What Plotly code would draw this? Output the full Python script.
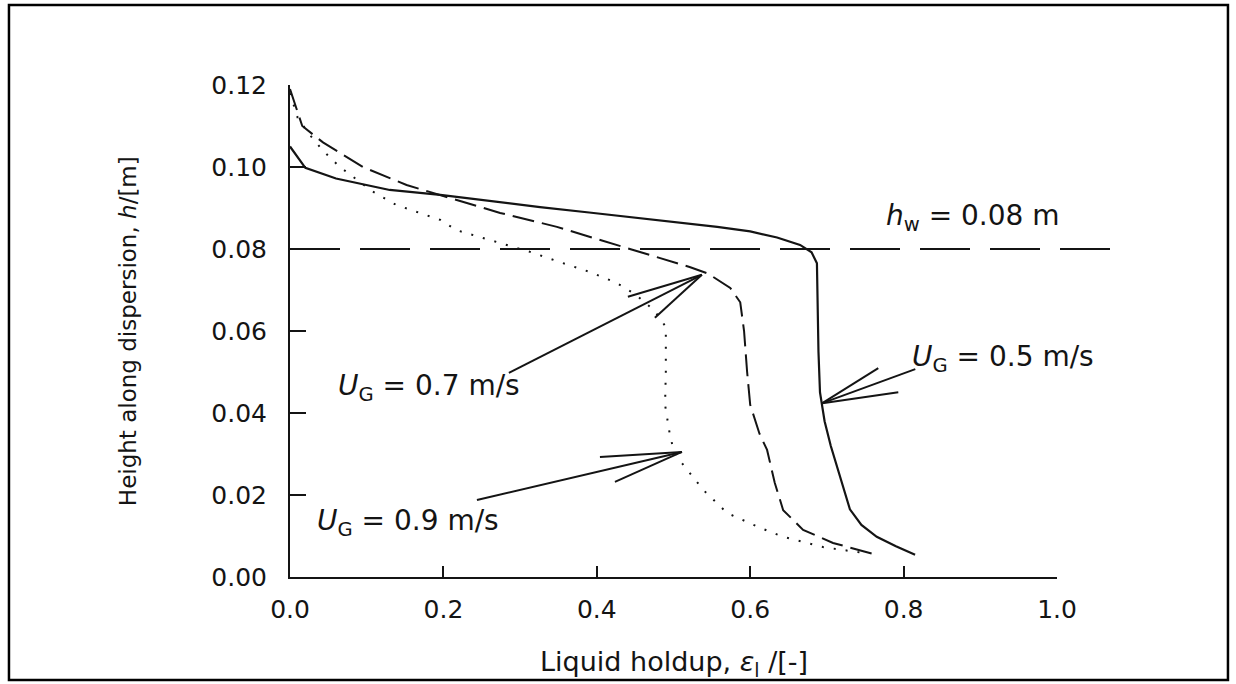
import plotly.graph_objects as go

# ---------------- data ----------------
# U_G = 0.5 m/s (solid)
x_05 = [0.0, 0.02, 0.06, 0.13, 0.196, 0.26, 0.326, 0.39, 0.456, 0.52, 0.557, 0.60,
        0.635, 0.665, 0.68, 0.687, 0.688, 0.689, 0.691, 0.697, 0.705, 0.713, 0.721,
        0.730, 0.745, 0.765, 0.79, 0.815]
h_05 = [0.105, 0.0998, 0.0972, 0.0944, 0.0932, 0.0917, 0.0902, 0.0889, 0.0875, 0.0862,
        0.0854, 0.0843, 0.0828, 0.0810, 0.0792, 0.0765, 0.065, 0.055, 0.045, 0.038,
        0.032, 0.027, 0.022, 0.0165, 0.0127, 0.0098, 0.0075, 0.0054]

# U_G = 0.7 m/s (dashed)
x_07 = [0.0, 0.005, 0.016, 0.043, 0.095, 0.152, 0.196, 0.274, 0.348, 0.426, 0.48,
        0.521, 0.545, 0.574, 0.587, 0.592, 0.596, 0.600, 0.612, 0.622, 0.632, 0.643,
        0.669, 0.708, 0.765]
h_07 = [0.119, 0.116, 0.110, 0.106, 0.100, 0.0956, 0.0932, 0.0888, 0.0854, 0.081,
        0.078, 0.0756, 0.0740, 0.0705, 0.067, 0.060, 0.050, 0.042, 0.035, 0.031,
        0.023, 0.0163, 0.0115, 0.0083, 0.0054]

# U_G = 0.9 m/s (dotted)
x_09 = [0.0, 0.01, 0.025, 0.043, 0.065, 0.108, 0.139, 0.196, 0.217, 0.270, 0.313,
        0.352, 0.391, 0.426, 0.45, 0.475, 0.49, 0.490, 0.489, 0.495, 0.50, 0.51, 0.521,
        0.539, 0.570, 0.613, 0.643, 0.695, 0.75]
h_09 = [0.118, 0.112, 0.108, 0.104, 0.100, 0.094, 0.0907, 0.0871, 0.0846, 0.0817,
        0.0793, 0.0768, 0.0744, 0.0717, 0.069, 0.065, 0.061, 0.050, 0.042, 0.035,
        0.031, 0.028, 0.0254, 0.0212, 0.0156, 0.012, 0.0098, 0.0073, 0.0058]

HW_LEVEL = 0.08
HW_LINE_END = 1.073

x_ticks = [0.0, 0.2, 0.4, 0.6, 0.8, 1.0]
x_ticktext = ["0.0", "0.2", "0.4", "0.6", "0.8", "1.0"]
y_ticks = [0.0, 0.02, 0.04, 0.06, 0.08, 0.10, 0.12]
y_ticktext = ["0.00", "0.02", "0.04", "0.06", "0.08", "0.10", "0.12"]

# ---------------- style ----------------
INK = "#141414"
FONT = "DejaVu Sans"

fig = go.Figure()
fig.add_trace(go.Scatter(x=x_05, y=h_05, mode="lines",
                         line=dict(color=INK, width=2.2), showlegend=False))
fig.add_trace(go.Scatter(x=x_07, y=h_07, mode="lines",
                         line=dict(color=INK, width=2, dash="22px,8px"), showlegend=False))
fig.add_trace(go.Scatter(x=x_09, y=h_09, mode="lines",
                         line=dict(color=INK, width=2, dash="2px,10px"), showlegend=False))

# h_w line (extends past the x-axis end)
fig.add_shape(type="line", xref="paper", yref="y", x0=0, x1=HW_LINE_END,
              y0=HW_LEVEL, y1=HW_LEVEL,
              line=dict(color=INK, width=2, dash="50px,20px"))

# outer frame
fig.add_shape(type="rect", xref="paper", yref="paper",
              x0=-0.3664, x1=1.2229, y0=-0.2093, y1=1.1626,
              line=dict(color="#000000", width=2.5), layer="above")

ann_font = dict(family=FONT, size=28, color=INK)

texts = [
    ("<i>h</i><sub>w</sub> = 0.08 m", 0.775, 0.0876),
    ("<i>U</i><sub>G</sub> = 0.5 m/s", 0.808, 0.0534),
    ("<i>U</i><sub>G</sub> = 0.7 m/s", 0.060, 0.0461),
    ("<i>U</i><sub>G</sub> = 0.9 m/s", 0.032, 0.0132),
]
for t, x, y in texts:
    fig.add_annotation(text=t, x=x, y=y, xref="x", yref="y", xanchor="left",
                       yanchor="middle", showarrow=False, font=ann_font)

# arrows: tip (data) and pixel offsets (right, up) of the main tail and the two barbs
arrows = [
    (0.694, 0.0424, [(93, 34), (56, 35), (76, 11)]),
    (0.537, 0.0737, [(-193, -98), (-74, -22), (-47, -43)]),
    (0.511, 0.0305, [(-205, -48), (-82, -5), (-67, -30)]),
]
for tx, ty, offs in arrows:
    for dx, dy in offs:
        fig.add_shape(type="line", xref="x", yref="y",
                      xsizemode="pixel", ysizemode="pixel",
                      xanchor=tx, yanchor=ty, x0=0, y0=0, x1=dx, y1=dy,
                      line=dict(color=INK, width=2))

# axis titles
fig.add_annotation(text="Liquid holdup, <i>ε</i><sub>l</sub> /[-]", xref="paper", yref="paper",
                   x=0.5, y=-0.175, xanchor="center", yanchor="middle", showarrow=False,
                   font=dict(family=FONT, size=27, color=INK))
fig.add_annotation(text="Height along dispersion, <i>h</i>/[m]", xref="paper", yref="paper",
                   x=-0.211, y=0.5, xanchor="center", yanchor="middle", showarrow=False,
                   textangle=-90, font=dict(family=FONT, size=23, color=INK))

fig.update_xaxes(range=[0, 1.0], tickvals=x_ticks, ticktext=x_ticktext,
                 showgrid=False, zeroline=False, showline=True, linecolor=INK, linewidth=2,
                 ticks="inside", ticklen=11, tickwidth=2, tickcolor=INK,
                 tickfont=dict(family=FONT, size=25, color=INK), ticklabelstandoff=9)
fig.update_yaxes(range=[0, 0.12], tickvals=y_ticks, ticktext=y_ticktext,
                 showgrid=False, zeroline=False, showline=True, linecolor=INK, linewidth=2,
                 ticks="inside", ticklen=16, tickwidth=2, tickcolor=INK,
                 tickfont=dict(family=FONT, size=25, color=INK), ticklabelstandoff=16)

fig.update_layout(width=1236, height=684, margin=dict(l=290, r=179, t=85, b=107),
                  paper_bgcolor="white", plot_bgcolor="white", showlegend=False)

fig.write_html("out.html")
